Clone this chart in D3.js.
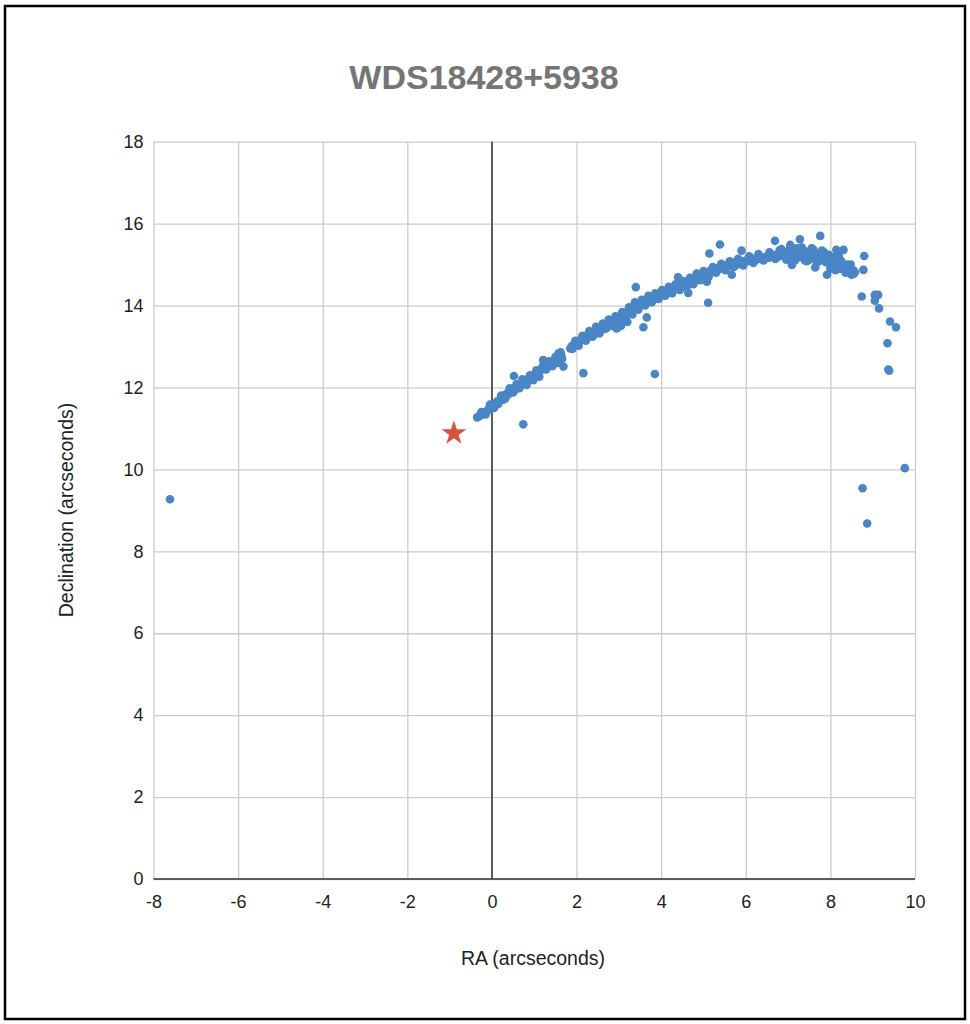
<!DOCTYPE html>
<html>
<head>
<meta charset="utf-8">
<script src="https://cdn.jsdelivr.net/npm/d3@7"></script>
<style>
  body { margin: 0; background: #fff; }
  text { font-family: "Liberation Sans", Arial, sans-serif; }
</style>
</head>
<body>
<svg width="970" height="1024"></svg>
<script>
// measurements along the arc: [RA, Dec] in arcseconds
var measures = [
  [-0.35,11.27],[-0.3,11.3],[-0.27,11.33],[-0.22,11.35],[-0.18,11.4],[-0.12,11.42],[-0.08,11.47],[-0.03,11.5],
  [0.0,11.55],[0.03,11.52],[0.06,11.6],[0.1,11.62],[0.13,11.66],[0.17,11.68],[0.2,11.72],[0.24,11.74],
  [0.27,11.7],[0.3,11.8],[0.33,11.82],[0.36,11.86],[0.4,11.84],[0.43,11.9],[0.47,11.93],[0.5,11.97],
  [0.53,11.92],[0.56,12.0],[0.6,12.02],[0.63,12.06],[0.67,12.04],[0.7,12.1],[0.74,12.13],[0.78,12.17],
  [0.8,12.12],[0.84,12.2],[0.88,12.22],[0.92,12.26],[0.96,12.24],[1.0,12.3],[1.03,12.33],[1.07,12.36],
  [1.1,12.32],[1.14,12.4],[1.18,12.45],[1.21,12.67],[1.25,12.5],[1.29,12.52],[1.33,12.55],[1.37,12.57],
  [1.41,12.6],[1.45,12.62],[1.49,12.66],[1.53,12.7],[1.57,12.83],[1.6,12.76],[1.64,12.79],[1.85,12.95],
  [1.88,13.0],[1.92,13.03],[1.95,13.06],[1.99,13.08],[2.02,13.12],[2.05,13.1],[2.09,13.16],[2.12,13.18],
  [2.16,13.2],[2.2,13.22],[2.24,13.25],[2.28,13.24],[2.32,13.3],[2.36,13.32],[2.4,13.3],[2.44,13.36],
  [2.48,13.4],[2.52,13.38],[2.56,13.44],[2.6,13.47],[2.63,13.42],[2.67,13.5],[2.7,13.55],[2.74,13.52],
  [2.78,13.58],[2.82,13.6],[2.86,13.56],[2.9,13.65],[2.94,13.62],[2.95,13.44],[2.98,13.7],[3.02,13.68],
  [3.05,13.5],[3.06,13.76],[3.1,13.72],[3.14,13.8],[3.18,13.78],[3.2,13.6],[3.22,13.86],[3.26,13.88],
  [3.3,13.84],[3.33,13.93],[3.36,13.96],[3.4,14.0],[3.44,13.97],[3.48,14.04],[3.52,14.06],[3.56,14.02],
  [3.6,14.1],[3.64,14.12],[3.68,14.09],[3.72,14.16],[3.76,14.18],[3.8,14.15],[3.84,14.22],[3.88,14.2],
  [3.92,14.26],[3.96,14.24],[4.0,14.3],[4.04,14.28],[4.08,14.33],[4.12,14.36],[4.16,14.32],[4.2,14.38],
  [4.24,14.4],[4.28,14.37],[4.32,14.43],[4.36,14.46],[4.4,14.69],[4.42,14.42],[4.46,14.5],[4.5,14.52],
  [4.54,14.48],[4.58,14.56],[4.62,14.58],[4.66,14.55],[4.7,14.62],[4.74,14.6],[4.78,14.66],[4.82,14.63],
  [4.86,14.7],[4.9,14.72],[4.94,14.68],[4.98,14.76],[5.02,14.74],[5.06,14.8],[5.08,14.58],[5.1,14.78],
  [5.15,14.84],[5.2,14.86],[5.24,14.82],[5.28,14.9],[5.32,14.88],[5.36,14.93],[5.4,14.9],[5.45,14.96],
  [5.5,14.94],[5.55,14.98],[5.6,15.0],[5.65,14.96],[5.7,15.02],[5.75,15.05],[5.8,15.0],[5.85,15.06],
  [5.92,15.08],[5.96,15.04],[6.0,15.1],[6.05,15.08],[6.1,15.12],[6.15,15.1],[6.2,15.14],[6.25,15.12],
  [6.3,15.16],[6.35,15.14],[6.4,15.18],[6.45,15.15],[6.5,15.2],[6.55,15.17],[6.6,15.22],[6.65,15.19],
  [6.72,15.24],[6.78,15.2],[6.8,15.35],[6.82,15.26],[6.86,15.22],[6.9,15.3],[6.94,15.2],[6.98,15.28],
  [7.0,15.15],[7.02,15.35],[7.06,15.22],[7.1,15.3],[7.14,15.2],[7.18,15.32],[7.2,15.4],[7.22,15.26],
  [7.26,15.18],[7.3,15.3],[7.34,15.22],[7.38,15.34],[7.4,15.1],[7.42,15.26],[7.46,15.2],[7.5,15.3],
  [7.5,15.12],[7.54,15.24],[7.58,15.16],[7.6,15.36],[7.62,15.28],[7.66,15.22],[7.7,15.14],[7.74,15.25],
  [7.78,15.18],[7.82,15.1],[7.85,15.3],[7.86,15.2],[7.9,15.06],[7.94,15.14],[7.98,15.02],[8.0,14.9],
  [8.02,15.1],[8.06,14.96],[8.1,15.04],[8.16,14.94],[8.2,15.0],[8.2,15.2],[8.24,14.9],[8.28,14.96],
  [8.34,14.88],[8.38,14.92],[8.4,15.0],[8.42,14.86],[8.46,14.9],[8.5,14.75],[8.54,14.86],[8.58,14.82]
];

// more measurements on the upper and lower edge of the arc
var edgeMeasures = [
  [-0.25,11.4],[-0.15,11.34],[-0.05,11.58],[0.05,11.5],[0.15,11.6],[0.22,11.8],[0.32,11.74],[0.42,11.98],
  [0.5,11.88],[0.58,12.08],[0.65,11.98],[0.72,12.2],[0.82,12.06],[0.9,12.3],[0.98,12.18],[1.05,12.42],
  [1.12,12.26],[1.2,12.52],[1.28,12.44],[1.35,12.64],[1.43,12.52],[1.5,12.74],[1.55,12.6],[1.62,12.86],
  [1.66,12.7],[1.9,12.94],[1.97,13.14],[2.05,13.02],[2.14,13.26],[2.22,13.14],[2.3,13.38],[2.38,13.24],
  [2.46,13.48],[2.54,13.32],[2.62,13.56],[2.7,13.44],[2.76,13.66],[2.84,13.5],[2.92,13.74],[3.0,13.58],
  [3.08,13.84],[3.16,13.68],[3.24,13.96],[3.32,13.78],[3.38,14.08],[3.46,13.9],[3.54,14.14],[3.62,14.0],
  [3.7,14.24],[3.78,14.08],[3.86,14.3],[3.94,14.16],[4.02,14.38],[4.1,14.24],[4.18,14.46],[4.26,14.3],
  [4.34,14.52],[4.44,14.38],[4.52,14.6],[4.6,14.46],[4.68,14.68],[4.76,14.52],[4.84,14.78],[4.92,14.62],
  [5.0,14.84],[5.12,14.7],[5.22,14.94],[5.3,14.8],[5.42,15.02],[5.52,14.86],[5.62,15.08],[5.72,14.94],
  [5.82,15.14],[5.94,14.98],[6.08,15.2],[6.18,15.04],[6.3,15.26],[6.42,15.1],[6.56,15.3],[6.7,15.14],
  [6.84,15.38],[6.96,15.12],[7.08,15.4],[7.16,15.1],[7.32,15.42],[7.44,15.08],[7.56,15.4],[7.68,15.04],
  [7.8,15.34],[7.96,15.24],[8.08,15.18],[8.12,14.86],[8.26,15.08],[8.36,14.8],[8.48,15.0],[8.56,14.78]
];

// scattered measurements away from the main arc
var strays = [
  [-7.61,9.27],[0.74,11.1],[0.52,12.28],[1.69,12.51],[2.16,12.35],[3.85,12.33],[3.4,14.45],[3.66,13.71],
  [3.58,13.47],[4.64,14.31],[5.11,14.07],[5.14,15.27],[5.39,15.49],[5.67,14.75],[5.9,15.34],[6.69,15.58],
  [7.05,15.48],[7.09,14.99],[7.28,15.62],[7.64,14.93],[7.76,15.7],[7.92,14.75],[8.14,15.36],[8.31,15.36],
  [8.78,14.87],[8.8,15.21],[8.74,14.22],[9.05,14.26],[9.13,14.26],[9.05,14.12],[9.15,13.93],[9.41,13.61],
  [9.55,13.47],[9.35,13.08],[9.39,12.41],[9.37,12.44],[9.76,10.03],[8.76,9.54],[8.87,8.68]
];

// primary star position
var primary = [[-0.9, 10.88]];

var xTicks = [-8, -6, -4, -2, 0, 2, 4, 6, 8, 10];
var yTicks = [0, 2, 4, 6, 8, 10, 12, 14, 16, 18];

drawChart(d3.select("svg"));

function drawChart(svg) {
  var left = 153.5, right = 915, plotTop = 141.7, bottom = 879;

  var x = d3.scaleLinear().domain([-8, 10]).range([left, right]);
  var y = d3.scaleLinear().domain([0, 18]).range([bottom, plotTop]);
  // plain hyphen for negatives, like the original
  var fmt = function(d) { return String(d); };

  // outer frame
  svg.append("rect")
    .attr("x", 5).attr("y", 6)
    .attr("width", 960).attr("height", 1013)
    .attr("fill", "#fff")
    .attr("stroke", "#000")
    .attr("stroke-width", 2.5);

  // gridlines
  svg.append("g")
    .attr("transform", "translate(0," + bottom + ")")
    .call(d3.axisBottom(x).tickValues(xTicks).tickSize(-(bottom - plotTop)).tickFormat(""))
    .call(function(g) { g.select(".domain").remove(); })
    .selectAll("line").attr("stroke", "#ccc").attr("stroke-width", 1.3);

  svg.append("g")
    .attr("transform", "translate(" + left + ",0)")
    .call(d3.axisLeft(y).tickValues(yTicks).tickSize(-(right - left)).tickFormat(""))
    .call(function(g) { g.select(".domain").remove(); })
    .selectAll("line").attr("stroke", "#ccc").attr("stroke-width", 1.3);

  // zero lines
  svg.append("line")
    .attr("x1", x(0)).attr("x2", x(0))
    .attr("y1", plotTop).attr("y2", bottom)
    .attr("stroke", "#333").attr("stroke-width", 1.5);

  svg.append("line")
    .attr("x1", left).attr("x2", right)
    .attr("y1", y(0)).attr("y2", y(0))
    .attr("stroke", "#333").attr("stroke-width", 1.5);

  // tick labels
  var xAxis = svg.append("g")
    .attr("transform", "translate(0," + bottom + ")")
    .call(d3.axisBottom(x).tickValues(xTicks).tickSize(0).tickPadding(16).tickFormat(fmt));
  xAxis.select(".domain").remove();
  xAxis.selectAll("text")
    .attr("font-size", 18)
    .attr("fill", "#222")
    .style("font-family", "'Liberation Sans', Arial, sans-serif");

  var yAxis = svg.append("g")
    .attr("transform", "translate(" + left + ",0)")
    .call(d3.axisLeft(y).tickValues(yTicks).tickSize(0).tickPadding(10).tickFormat(fmt));
  yAxis.select(".domain").remove();
  yAxis.selectAll("text")
    .attr("font-size", 18)
    .attr("fill", "#222")
    .style("font-family", "'Liberation Sans', Arial, sans-serif");

  // points
  svg.append("g").selectAll("circle")
    .data(measures.concat(edgeMeasures, strays))
    .enter()
    .append("circle")
    .attr("cx", function(d) { return x(d[0]); })
    .attr("cy", function(d) { return y(d[1]); })
    .attr("r", 4.3)
    .attr("fill", "#4a85c6");

  svg.append("g").selectAll("path")
    .data(primary)
    .enter()
    .append("path")
    .attr("d", d3.symbol().type(d3.symbolStar).size(190))
    .attr("transform", function(d) { return "translate(" + x(d[0]) + "," + y(d[1]) + ")"; })
    .attr("fill", "#d9513f");

  // title
  svg.append("text")
    .text("WDS18428+5938")
    .attr("x", 484)
    .attr("y", 89)
    .attr("text-anchor", "middle")
    .attr("font-size", 34)
    .attr("font-weight", "bold")
    .attr("fill", "#757575");

  // axis titles
  svg.append("text")
    .text("RA (arcseconds)")
    .attr("x", 533)
    .attr("y", 965)
    .attr("text-anchor", "middle")
    .attr("font-size", 19.5)
    .attr("fill", "#222");

  svg.append("text")
    .text("Declination (arcseconds)")
    .attr("transform", "translate(73,510) rotate(-90)")
    .attr("text-anchor", "middle")
    .attr("font-size", 19.5)
    .attr("fill", "#222");
}
</script>
</body>
</html>
